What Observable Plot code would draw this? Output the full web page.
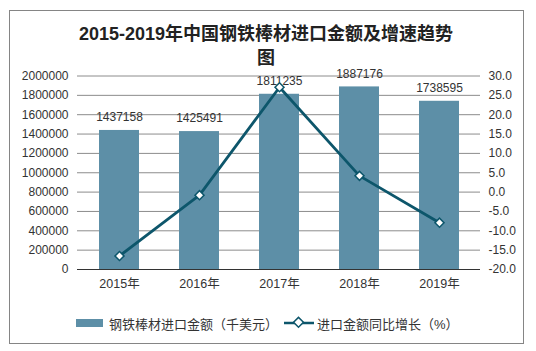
<!DOCTYPE html>
<html>
<head>
<meta charset="utf-8">
<script src="https://cdn.jsdelivr.net/npm/d3@7"></script>
<script src="https://cdn.jsdelivr.net/npm/@observablehq/plot@0.6"></script>
<style>
  html, body { margin: 0; padding: 0; background: #fff; }
  #wrap { position: relative; width: 536px; height: 351px; overflow: hidden;
          font-family: "Liberation Sans", Arial, "Noto Sans CJK SC", sans-serif; color: #333; }
  #frame { position: absolute; left: 9px; top: 10px; width: 515px; height: 334px;
           box-sizing: border-box; border: 1px solid #858585; }
  #title { position: absolute; left: 9px; top: 22px; width: 514px; text-align: center;
           font-size: 18px; font-weight: bold; line-height: 24px; color: #222; }
  #chart { position: absolute; left: 0; top: 0; }
  .leg { position: absolute; top: 314px; height: 18px; display: flex; align-items: center;
         font-size: 13px; color: #333; white-space: nowrap; }
</style>
</head>
<body>
<div id="wrap">
  <div id="frame"></div>
  <div id="chart"></div>
  <div id="title">2015-2019年中国钢铁棒材进口金额及增速趋势<br>图</div>
  <div class="leg" id="leg1" style="left:76px;"></div>
  <div class="leg" id="leg2" style="left:284px;"></div>
</div>
<script>
const years = ["2015年", "2016年", "2017年", "2018年", "2019年"];
const amounts = [1437158, 1425491, 1811235, 1887176, 1738595];
const growth = [-16.5, -0.8, 27.1, 4.2, -7.9];
const leftTicks = [0, 200000, 400000, 600000, 800000, 1000000, 1200000, 1400000, 1600000, 1800000, 2000000];
const seriesNames = ["钢铁棒材进口金额（千美元）", "进口金额同比增长（%）"];

const barColor = "#5d8fa7";
const lineColor = "#0d566b";

// right axis: -20..30 mapped onto 0..2,000,000
const gMin = -20, gMax = 30, yMax = 2000000;
const toY = g => (g - gMin) / (gMax - gMin) * yMax;
const fromY = v => v / yMax * (gMax - gMin) + gMin;

const data = years.map((y, i) => ({year: y, amount: amounts[i], growth: growth[i], gy: toY(growth[i])}));

const chart = Plot.plot({
  width: 536,
  height: 351,
  marginLeft: 77,
  marginRight: 56,
  marginTop: 75.5,
  marginBottom: 82,
  style: {fontFamily: '"Liberation Sans", Arial, "Noto Sans CJK SC", sans-serif', fontSize: "12px", color: "#333", background: "transparent"},
  x: {domain: years, paddingInner: 0.5, paddingOuter: 0.25, label: null},
  y: {domain: [0, yMax], label: null},
  marks: [
    Plot.gridY(leftTicks, {stroke: "#8c8c8c", strokeOpacity: 1, strokeWidth: 1}),
    Plot.barY(data, {x: "year", y: "amount", fill: barColor}),
    Plot.text(data, {x: "year", y: "amount", text: d => String(d.amount), dy: -13, fill: "#333", fontSize: 12}),
    Plot.ruleY([0], {stroke: "#333", strokeWidth: 1}),
    Plot.axisY(leftTicks, {anchor: "left", tickSize: 0, tickPadding: 9, label: null, tickFormat: d => String(d)}),
    Plot.axisY(leftTicks, {anchor: "right", tickSize: 0, tickPadding: 8, label: null, tickFormat: d => fromY(d).toFixed(1)}),
    Plot.axisX({tickSize: 0, tickPadding: 10, label: null, fontSize: 12.5}),
    Plot.line(data, {x: "year", y: "gy", stroke: lineColor, strokeWidth: 2.8, curve: "linear"}),
    Plot.dot(data, {x: "year", y: "gy", symbol: "square", rotate: 45, r: 3.6, fill: "white", stroke: lineColor, strokeWidth: 1.5})
  ]
});
document.getElementById("chart").appendChild(chart);

document.getElementById("leg1").innerHTML =
  `<svg width="28" height="18" style="margin-right:5px"><rect x="0" y="5" width="27" height="8" fill="${barColor}"/></svg><span>${seriesNames[0]}</span>`;
document.getElementById("leg2").innerHTML =
  `<svg width="30" height="18" style="margin-right:3px"><line x1="0" y1="9" x2="30" y2="9" stroke="${lineColor}" stroke-width="2.5"/>` +
  `<rect x="10.5" y="5" width="7" height="7" transform="rotate(45 14.5 9)" fill="white" stroke="${lineColor}" stroke-width="1.5"/></svg><span>${seriesNames[1]}</span>`;
</script>
</body>
</html>
